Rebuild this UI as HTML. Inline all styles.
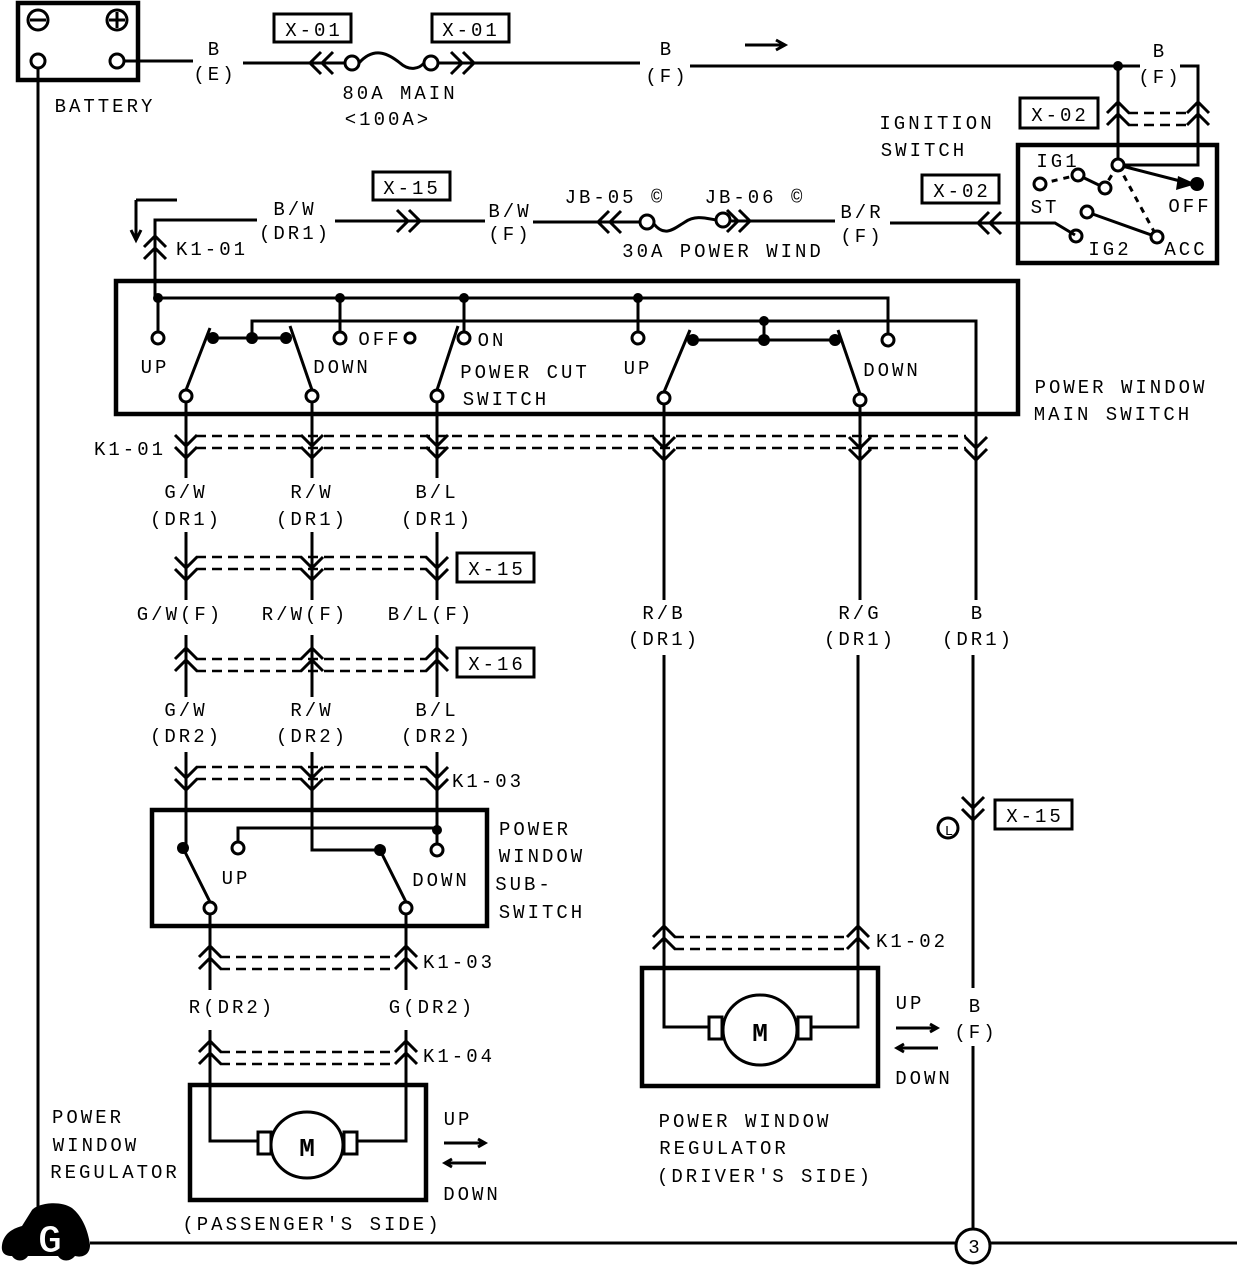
<!DOCTYPE html>
<html><head><meta charset="utf-8"><style>
html,body{margin:0;padding:0;background:#fff;}
svg{display:block;}
text{font-family:"Liberation Mono",monospace;font-size:19px;letter-spacing:3px;fill:#000;text-anchor:middle;}
.s{fill:none;stroke:#000;stroke-width:3;}
.b{fill:none;stroke:#000;stroke-width:4.5;}
.d{fill:none;stroke:#000;stroke-width:2.5;stroke-dasharray:10,6;}
.o{fill:#fff;stroke:#000;stroke-width:3;}
.f{fill:#000;}
</style></head><body>
<svg width="1248" height="1266" viewBox="0 0 1248 1266">
<defs>
<g id="cu"><path class="s" d="M-11,11 L0,0 L11,11 M-11,23 L0,12 L11,23"/></g>
<g id="cd"><path class="s" d="M-11,-11 L0,0 L11,-11 M-11,-23 L0,-12 L11,-23"/></g>
<g id="cl"><path class="s" d="M11,-11 L0,0 L11,11 M23,-11 L12,0 L23,11"/></g>
<g id="cr"><path class="s" d="M-11,-11 L0,0 L-11,11 M-23,-11 L-12,0 L-23,11"/></g>
</defs>

<!-- battery -->
<rect x="18" y="3" width="120" height="77" class="b"/>
<circle cx="38" cy="20" r="10" class="s"/><path class="s" d="M30,20 H46"/>
<circle cx="117" cy="20" r="10" class="s"/><path class="s" d="M109,20 H125 M117,12 V28"/>
<circle cx="38" cy="61" r="7" class="o"/><circle cx="117" cy="61" r="7" class="o"/>
<text x="105" y="112">BATTERY</text>
<path class="s" d="M38,68 V1235 M90,1243 H1237"/>
<path class="s" d="M124,61 H193"/>
<text x="215" y="55">B</text><text x="215" y="80">(E)</text>
<path class="s" d="M243,63 H345"/>
<use href="#cl" x="310" y="63"/>
<circle cx="352" cy="63" r="7" class="o"/>
<path class="s" d="M359,63 C375,45 390,55 400,63 C410,72 420,68 424,63"/>
<circle cx="431" cy="63" r="7" class="o"/>
<path class="s" d="M438,63 H640"/>
<use href="#cr" x="474" y="63"/>
<rect x="274" y="14" width="77" height="28" class="s" stroke-width="2.5"/><text x="314" y="36">X-01</text>
<rect x="432" y="14" width="77" height="28" class="s" stroke-width="2.5"/><text x="471" y="36">X-01</text>
<text x="400" y="99">80A MAIN</text><text x="388" y="125">&lt;100A&gt;</text>
<text x="667" y="55">B</text><text x="667" y="82">(F)</text>
<path class="s" d="M745,45 H783 M776,40 L785,45 L776,50" stroke-width="2"/>
<path class="s" d="M690,66 H1140"/>
<circle cx="1118" cy="66" r="5" class="f"/>
<text x="1160" y="57">B</text><text x="1160" y="83">(F)</text>
<path class="s" d="M1180,66 H1198 V165 H1118 V66"/>
<use href="#cu" x="1118" y="102"/><use href="#cu" x="1198" y="102"/>
<path class="d" d="M1128,113 H1188 M1128,125 H1188"/>
<rect x="1020" y="98" width="78" height="30" class="s" stroke-width="2.5"/><text x="1060" y="121">X-02</text>
<text x="937" y="129">IGNITION</text><text x="924" y="156">SWITCH</text>

<!-- ignition switch -->
<rect x="1018" y="145" width="199" height="118" class="b"/>
<text x="1058" y="167">IG1</text><text x="1045" y="213">ST</text><text x="1190" y="212">OFF</text>
<text x="1110" y="255">IG2</text><text x="1186" y="255">ACC</text>
<path class="s" d="M1118,165 L1188,183"/><path class="f" d="M1178,176 L1196,184 L1176,190 Z"/>
<circle cx="1197" cy="184" r="7" class="f"/>
<path class="s" stroke-width="2" stroke-dasharray="6,6" d="M1040,184 L1078,175 M1118,165 L1105,186 M1118,165 L1157,237"/>
<path class="s" d="M1078,175 L1105,188 M1087,212 L1157,237"/>
<circle cx="1118" cy="165" r="6" class="o"/><circle cx="1040" cy="184" r="6" class="o"/>
<circle cx="1078" cy="175" r="6" class="o"/><circle cx="1105" cy="188" r="6" class="o"/>
<circle cx="1087" cy="212" r="6" class="o"/><circle cx="1157" cy="237" r="6" class="o"/>
<circle cx="1076" cy="236" r="6" class="o"/>

<!-- B/W row -->
<path class="s" d="M136,200 H177 M136,200 V238 M131,230 L136,240 L141,230" stroke-width="1.5"/>
<path class="s" d="M155,298 V220 H257"/>
<text x="295" y="215">B/W</text><text x="295" y="239">(DR1)</text>
<path class="s" d="M335,221 H485"/><use href="#cr" x="420" y="221"/>
<rect x="373" y="172" width="77" height="28" class="s" stroke-width="2.5"/><text x="412" y="194">X-15</text>
<text x="510" y="217">B/W</text><text x="510" y="240">(F)</text>
<path class="s" d="M533,222 H640"/><use href="#cl" x="598" y="222"/>
<circle cx="647" cy="222" r="7" class="o"/>
<path class="s" d="M654,224 C665,238 675,228 685,222 C695,215 705,218 716,220"/>
<circle cx="723" cy="220" r="7" class="o"/>
<path class="s" d="M730,221 H835"/><use href="#cr" x="750" y="221"/>
<text x="615" y="203">JB-05 ©</text><text x="755" y="203">JB-06 ©</text>
<text x="723" y="257">30A POWER WIND</text>
<text x="862" y="218">B/R</text><text x="862" y="242">(F)</text>
<path class="s" d="M890,223 H1055 L1075,235"/><use href="#cl" x="978" y="223"/>
<rect x="922" y="175" width="77" height="28" class="s" stroke-width="2.5"/><text x="962" y="197">X-02</text>
<use href="#cu" x="155" y="236"/><text x="212" y="255">K1-01</text>

<!-- main switch -->
<rect x="116" y="281" width="902" height="133" class="b"/>
<path class="s" d="M158,298 H888 V333 M158,298 V331 M340,298 V331 M464,298 V331 M638,298 V331"/>
<path class="s" d="M252,338 V321 H976 V600 M764,321 V340"/>
<circle cx="158" cy="298" r="5" class="f"/><circle cx="340" cy="298" r="5" class="f"/>
<circle cx="464" cy="298" r="5" class="f"/><circle cx="638" cy="298" r="5" class="f"/>
<circle cx="764" cy="321" r="5" class="f"/>
<circle cx="158" cy="338" r="6" class="o"/><circle cx="340" cy="338" r="6" class="o"/>
<circle cx="410" cy="338" r="5" class="o"/><circle cx="464" cy="338" r="6" class="o"/>
<circle cx="638" cy="338" r="6" class="o"/><circle cx="888" cy="340" r="6" class="o"/>
<path class="s" d="M186,390 L210,328 M213,338 H286 M312,390 L290,326 M437,390 L458,326 M664,392 L690,330 M693,340 H835 M860,394 L838,330"/>
<circle cx="213" cy="338" r="6" class="f"/><circle cx="252" cy="338" r="6" class="f"/><circle cx="286" cy="338" r="6" class="f"/>
<circle cx="693" cy="340" r="6" class="f"/><circle cx="764" cy="340" r="6" class="f"/><circle cx="835" cy="340" r="6" class="f"/>
<circle cx="186" cy="396" r="6" class="o"/><circle cx="312" cy="396" r="6" class="o"/><circle cx="437" cy="396" r="6" class="o"/>
<circle cx="664" cy="398" r="6" class="o"/><circle cx="860" cy="400" r="6" class="o"/>
<text x="380" y="345">OFF</text><text x="492" y="346">ON</text>
<text x="155" y="373">UP</text><text x="342" y="373">DOWN</text>
<text x="525" y="378">POWER CUT</text><text x="506" y="405">SWITCH</text>
<text x="638" y="374">UP</text><text x="892" y="376">DOWN</text>
<text x="1121" y="393">POWER WINDOW</text><text x="1113" y="420">MAIN SWITCH</text>

<!-- K1-01 lower -->
<path class="s" d="M186,402 V478 M312,402 V478 M437,402 V478 M664,404 V600 M860,406 V600"/>
<use href="#cd" x="186" y="458"/><use href="#cd" x="312" y="458"/><use href="#cd" x="437" y="458"/>
<use href="#cd" x="664" y="460"/><use href="#cd" x="860" y="460"/><use href="#cd" x="976" y="460"/>
<path class="d" d="M196,436 H966 M196,448 H966"/>
<text x="130" y="455">K1-01</text>
<text x="186" y="498">G/W</text><text x="186" y="525">(DR1)</text>
<text x="312" y="498">R/W</text><text x="312" y="525">(DR1)</text>
<text x="437" y="498">B/L</text><text x="437" y="525">(DR1)</text>
<path class="s" d="M186,532 V600 M312,532 V600 M437,532 V600"/>
<use href="#cd" x="186" y="580"/><use href="#cd" x="312" y="580"/><use href="#cd" x="437" y="580"/>
<path class="d" d="M196,557 H427 M196,569 H427"/>
<rect x="457" y="553" width="77" height="29" class="s" stroke-width="2.5"/><text x="497" y="575">X-15</text>
<text x="180" y="620">G/W(F)</text><text x="305" y="620">R/W(F)</text><text x="431" y="620">B/L(F)</text>
<path class="s" d="M186,635 V697 M312,635 V697 M437,635 V697"/>
<use href="#cu" x="186" y="648"/><use href="#cu" x="312" y="648"/><use href="#cu" x="437" y="648"/>
<path class="d" d="M196,659 H427 M196,671 H427"/>
<rect x="457" y="648" width="77" height="29" class="s" stroke-width="2.5"/><text x="497" y="670">X-16</text>
<text x="186" y="716">G/W</text><text x="186" y="742">(DR2)</text>
<text x="312" y="716">R/W</text><text x="312" y="742">(DR2)</text>
<text x="437" y="716">B/L</text><text x="437" y="742">(DR2)</text>
<path class="s" d="M186,752 V848 M312,752 V850 H380 M437,752 V830"/>
<use href="#cd" x="186" y="790"/><use href="#cd" x="312" y="790"/><use href="#cd" x="437" y="790"/>
<path class="d" d="M196,767 H427 M196,779 H427"/>
<text x="488" y="787">K1-03</text>

<!-- sub switch -->
<rect x="152" y="810" width="335" height="116" class="b"/>
<path class="s" d="M238,842 V828 H437 M437,830 V844 M183,848 L210,902 M380,850 L406,902"/>
<circle cx="437" cy="830" r="5" class="f"/><circle cx="183" cy="848" r="6" class="f"/><circle cx="380" cy="850" r="6" class="f"/>
<circle cx="238" cy="848" r="6" class="o"/><circle cx="437" cy="850" r="6" class="o"/>
<circle cx="210" cy="908" r="6" class="o"/><circle cx="406" cy="908" r="6" class="o"/>
<text x="236" y="884">UP</text><text x="441" y="886">DOWN</text>
<text x="535" y="835">POWER</text><text x="542" y="862">WINDOW</text><text x="524" y="890">SUB-</text><text x="542" y="918">SWITCH</text>
<path class="s" d="M210,914 V990 M406,914 V990"/>
<use href="#cu" x="210" y="946"/><use href="#cu" x="406" y="946"/>
<path class="d" d="M220,957 H396 M220,969 H396"/>
<text x="459" y="968">K1-03</text>
<text x="232" y="1013">R(DR2)</text><text x="432" y="1013">G(DR2)</text>
<path class="s" d="M210,1030 V1141 H262 M406,1030 V1141 H352"/>
<use href="#cu" x="210" y="1041"/><use href="#cu" x="406" y="1041"/>
<path class="d" d="M220,1052 H396 M220,1064 H396"/>
<text x="459" y="1062">K1-04</text>
<rect x="190" y="1085" width="236" height="115" class="b"/>
<ellipse cx="307" cy="1145" rx="36" ry="33" class="o"/>
<rect x="258" y="1132" width="13" height="22" class="o"/><rect x="344" y="1132" width="13" height="22" class="o"/>
<text x="307" y="1156" style="font-size:26px;font-weight:bold;letter-spacing:0">M</text>
<text x="458" y="1125">UP</text>
<path class="s" stroke-width="1.5" d="M444,1143 H484 M478,1139 L485,1143 L478,1147 M446,1163 H486 M452,1159 L445,1163 L452,1167"/>
<text x="472" y="1200">DOWN</text>
<text x="312" y="1230">(PASSENGER'S SIDE)</text>
<text x="88" y="1123">POWER</text><text x="96" y="1151">WINDOW</text><text x="115" y="1178">REGULATOR</text>

<!-- driver side -->
<text x="664" y="619">R/B</text><text x="664" y="645">(DR1)</text>
<text x="860" y="619">R/G</text><text x="860" y="645">(DR1)</text>
<text x="978" y="619">B</text><text x="978" y="645">(DR1)</text>
<path class="s" d="M664,655 V1027 H710 M858,655 V1027 H812"/>
<use href="#cu" x="664" y="926"/><use href="#cu" x="858" y="926"/>
<path class="d" d="M674,937 H848 M674,949 H848"/>
<text x="912" y="947">K1-02</text>
<rect x="642" y="968" width="236" height="118" class="b"/>
<ellipse cx="760" cy="1030" rx="37" ry="35" class="o"/>
<rect x="709" y="1017" width="13" height="22" class="o"/><rect x="798" y="1017" width="13" height="22" class="o"/>
<text x="760" y="1041" style="font-size:26px;font-weight:bold;letter-spacing:0">M</text>
<text x="910" y="1009">UP</text>
<path class="s" stroke-width="1.5" d="M896,1028 H936 M930,1024 L937,1028 L930,1032 M898,1048 H938 M904,1044 L897,1048 L904,1052"/>
<text x="924" y="1084">DOWN</text>
<text x="745" y="1127">POWER WINDOW</text><text x="724" y="1154">REGULATOR</text><text x="765" y="1182">(DRIVER'S SIDE)</text>
<path class="s" d="M973,655 V988 M973,1046 V1229"/>
<use href="#cd" x="973" y="820"/>
<circle cx="948" cy="828" r="10" class="s" stroke-width="1.5"/><text x="949" y="835" style="font-size:14px;letter-spacing:0">L</text>
<rect x="995" y="800" width="77" height="29" class="s" stroke-width="2.5"/><text x="1035" y="822">X-15</text>
<text x="976" y="1012">B</text><text x="976" y="1038">(F)</text>
<circle cx="973" cy="1246" r="17" class="o"/><text x="974" y="1253" style="letter-spacing:0">3</text>

<!-- ground badge -->
<path class="f" d="M2,1245 C4,1232 15,1228 22,1226 L32,1210 C38,1203 60,1200 72,1208 C82,1216 88,1230 90,1245 C90,1255 82,1258 75,1256 C70,1262 62,1262 58,1256 L28,1256 C24,1262 16,1262 12,1256 C4,1256 1,1252 2,1245 Z"/>
<text x="50" y="1252" style="font-size:40px;font-weight:bold;fill:#fff;letter-spacing:0;stroke:#000;stroke-width:1">G</text>
</svg>
</body></html>
